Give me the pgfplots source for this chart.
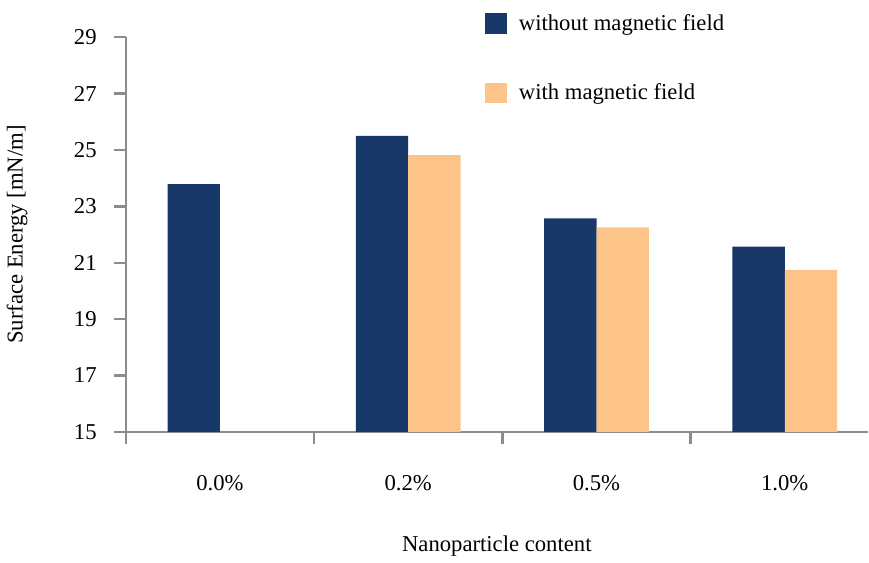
\documentclass[border=0pt]{standalone}
\usepackage{pgfplots}
\pgfplotsset{compat=1.18}
\usepackage{fontspec}
\setmainfont{Liberation Serif}
\definecolor{darkbar}{RGB}{24,56,106}
\definecolor{lightbar}{RGB}{252,196,136}
\definecolor{axgray}{RGB}{140,140,140}
\begin{document}
\begin{tikzpicture}
\begin{axis}[
  scale only axis,
  width=368.5bp, height=196bp,
  ybar=0pt, bar width=0.278,
  xmin=-0.5, xmax=3.441,
  ymin=15, ymax=29,
  ytick={15,17,19,21,23,25,27,29},
  xtick={-0.5,0.5,1.5,2.5},
  xticklabels={},
  extra x ticks={0,1,2,3},
  extra x tick labels={0.0\%,0.2\%,0.5\%,1.0\%},
  extra x tick style={major tick length=0pt, tick label style={yshift=-18bp}},
  axis x line=bottom, axis y line=left,
  axis line style={draw=axgray, line width=1.2pt, -},
  tick style={draw=axgray, line width=1.2pt},
  tick align=outside,
  major tick length=6bp,
  font=\fontsize{11.3}{13}\selectfont,
  tick label style={font=\fontsize{11.3}{13}\selectfont},
  /pgf/number format/assume math mode=true,
  yticklabel style={xshift=-5bp},
  xlabel={Nanoparticle content},
  ylabel={Surface Energy [mN/m]},
  xlabel style={at={(axis description cs:0.5,0)}, anchor=center, yshift=-56.5bp},
  ylabel style={at={(axis description cs:0,0.5)}, anchor=center, yshift=54bp},
  legend style={at={(axis description cs:0.475,1.08)}, anchor=north west, draw=none, fill=none,
    row sep=21bp, font=\fontsize{11.3}{13}\selectfont, cells={anchor=west}},
  legend image code/.code={\fill[#1] (0bp,-5bp) rectangle (11bp,5bp); \path[draw=none,fill=none] (0bp,-1bp) rectangle (15bp,1bp);},
  clip=false,
]
\addplot[fill=darkbar, draw=none] coordinates {(0,23.79) (1,25.5) (2,22.57) (3,21.57)};
\addplot[fill=lightbar, draw=none] coordinates {(1,24.82) (2,22.25) (3,20.75)};
\legend{without magnetic field, with magnetic field}
\end{axis}
\path (current bounding box.north) ++(0,3bp) coordinate (topext);
\path[use as bounding box] (current bounding box.south west) rectangle (current bounding box.north east |- topext);
\end{tikzpicture}
\end{document}
